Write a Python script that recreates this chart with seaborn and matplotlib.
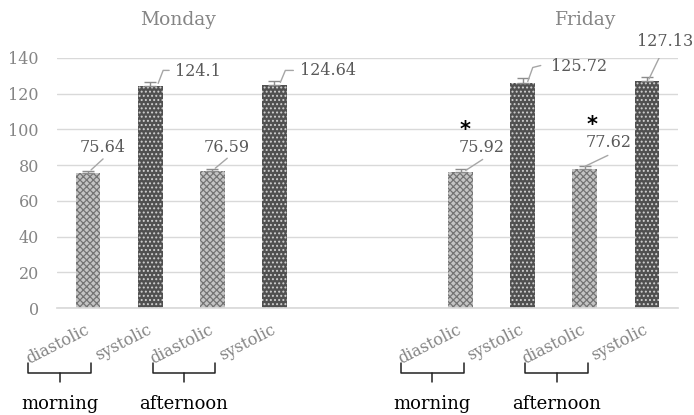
import numpy as np
import pandas as pd
import seaborn as sns
import matplotlib.pyplot as plt

# ---- data -------------------------------------------------------------
slots = ["mon_m_d", "mon_m_s", "mon_a_d", "mon_a_s", "gap1", "gap2",
         "fri_m_d", "fri_m_s", "fri_a_d", "fri_a_s"]
bar_slots = ["mon_m_d", "mon_m_s", "mon_a_d", "mon_a_s",
             "fri_m_d", "fri_m_s", "fri_a_d", "fri_a_s"]
kinds = ["diastolic", "systolic", "diastolic", "systolic",
         "diastolic", "systolic", "diastolic", "systolic"]
values = [75.64, 124.1, 76.59, 124.64, 75.92, 125.72, 77.62, 127.13]
errors = [1.2, 2.3, 1.2, 2.2, 1.8, 3.2, 1.8, 2.5]
labels = ["75.64", "124.1", "76.59", "124.64", "75.92", "125.72", "77.62", "127.13"]
starred = [False, False, False, False, True, False, True, False]
tick_labels = ["diastolic", "systolic", "diastolic", "systolic", "", "",
               "diastolic", "systolic", "diastolic", "systolic"]
days = ["Monday", "Friday"]
day_pos = [1.45, 8.02]
groups = ["morning", "afternoon", "morning", "afternoon"]
group_diastolic_slot = [0, 2, 6, 8]
yticks = [0, 20, 40, 60, 80, 100, 120, 140]

# label placement (pixel offsets from the top of each bar: text left/centre,
# and the leader-line vertices)
text_off = [(-8, 25), (25, 15), (-9, 24), (26, 15), (-2, 25), (28, 17), (1, 27), (-10, 39)]
leader_off = [
    [(3, 3), (15, 14)],
    [(8, 3), (13, 16), (19, 16)],
    [(3, 3), (15, 13)],
    [(6, 3), (11, 15), (19, 15)],
    [(5, 2), (22, 13)],
    [(5, 2), (10, 16), (18, 18)],
    [(0, 3), (23, 14)],
    [(2, 2), (16, 31)],
]

df = pd.DataFrame({"slot": bar_slots, "kind": kinds, "value": values})

# ---- style ------------------------------------------------------------
sns.set_theme(style="white")
plt.rcParams["font.family"] = ["DejaVu Serif"]
plt.rcParams["hatch.linewidth"] = 0.9

TICK_TXT = "#858585"
LABEL_TXT = "#595959"

fig = plt.figure(figsize=(6.94, 4.15), dpi=100)
ax = fig.add_axes([57 / 694, 1 - 308 / 415, 621 / 694, 250 / 415])

sns.barplot(data=df, x="slot", y="value", order=slots, hue="kind",
            palette={"diastolic": "#c4c4c4", "systolic": "#4f4f4f"},
            width=0.4, dodge=False, errorbar=None, legend=False, ax=ax)

fill = {"diastolic": ("#c4c4c4", "#747474", "xxxxx"),
        "systolic": ("#505050", "#d0d0d0", "....")}
pos_of = {s: i for i, s in enumerate(slots)}
xs = np.array([pos_of[s] for s in bar_slots])
for p in ax.patches:
    h = p.get_height()
    if h == 0 or np.isnan(h):
        continue
    xc = p.get_x() + p.get_width() / 2
    k = kinds[int(np.argmin(np.abs(xs - xc)))]
    fc, hc, hatch = fill[k]
    p.set_facecolor(fc)
    p.set_edgecolor(hc)
    p.set_linewidth(0)
    p.set_hatch(hatch)

ax.errorbar(xs, values, yerr=[np.zeros(len(errors)), errors], fmt="none",
            ecolor="#8c8c8c", elinewidth=1, capsize=4, capthick=1, zorder=3)

ax.set_xlim(-0.5, 9.5)
ax.set_ylim(0, 140)
ax.set_yticks(yticks)
ax.yaxis.grid(True, color="#d9d9d9", linewidth=1)
ax.set_axisbelow(True)
for s in ["top", "right", "left"]:
    ax.spines[s].set_visible(False)
ax.spines["bottom"].set_color("#d9d9d9")
ax.set_xlabel("")
ax.set_ylabel("")
ax.tick_params(axis="y", length=0, labelsize=11.5, labelcolor=TICK_TXT, pad=13)
ax.set_xticks(range(len(slots)))
ax.set_xticklabels(tick_labels)
ax.tick_params(axis="x", length=0, labelsize=11.5, labelcolor=TICK_TXT, pad=15)
for t in ax.get_xticklabels():
    t.set_rotation(27)
    t.set_ha("right")
    t.set_va("center")
    t.set_rotation_mode("anchor")

# day headers
for d, x in zip(days, day_pos):
    ax.text(x, 1.152, d, transform=ax.get_xaxis_transform(), ha="center",
            va="center", fontsize=13.5, color=TICK_TXT)

# value labels with leader lines
fig.canvas.draw()
to_disp = ax.transData.transform
to_data = ax.transData.inverted().transform
for x, v, lab, toff, loff, st in zip(xs, values, labels, text_off, leader_off, starred):
    px, py = to_disp((x, v))
    tx, ty = to_data((px + toff[0], py + toff[1]))
    ax.text(tx, ty, lab, ha="left", va="center", fontsize=11.5, color=LABEL_TXT)
    pts = np.array([to_data((px + a, py + b)) for a, b in loff])
    ax.plot(pts[:, 0], pts[:, 1], color="#a6a6a6", linewidth=1, zorder=4)
    if st:
        sx, sy = to_data((px + toff[0] + 6, py + toff[1] + 17))
        ax.text(sx, sy, "*", ha="center", va="center", fontsize=15,
                fontweight="bold", color="black", family="DejaVu Sans")

# morning / afternoon braces
bt = ax.get_xaxis_transform()
for g, d in zip(groups, group_diastolic_slot):
    x0, x1 = d - 0.96, d + 0.05
    xm = (x0 + x1) / 2
    ax.plot([x0, x0, x1, x1], [-0.22, -0.26, -0.26, -0.22], transform=bt,
            color="#222222", linewidth=1.1, clip_on=False)
    ax.plot([xm, xm], [-0.26, -0.296], transform=bt, color="#222222",
            linewidth=1.1, clip_on=False)
    ax.text(xm, -0.405, g, transform=bt, ha="center", va="baseline",
            fontsize=13, color="black")

fig.savefig("out.png", dpi=100)
